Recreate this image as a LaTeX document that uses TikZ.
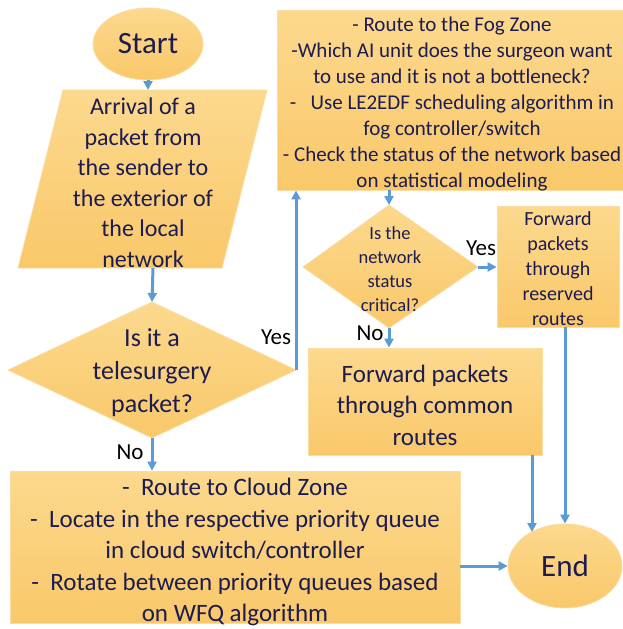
\documentclass[tikz,border=0pt]{standalone}
\usepackage{fontspec}
\setmainfont{Carlito}
\usetikzlibrary{arrows.meta,shapes.geometric}
\definecolor{fillA}{HTML}{FCD98E}
\definecolor{fillB}{HTML}{F9C86A}
\definecolor{edgeC}{HTML}{FBDDA2}
\definecolor{arrowC}{HTML}{5B9BD5}
\definecolor{txt}{HTML}{1C1C50}
\begin{document}
\begin{tikzpicture}[x=1pt,y=-1pt,
  shp/.style={top color=fillA,bottom color=fillB,draw=edgeC,line width=0.8pt},
  conn/.style={draw=arrowC,line width=3pt,-{Triangle[length=9pt,width=9pt]}},
  lbl/.style={font=\fontsize{23}{27}\selectfont,text=black,inner sep=0pt},
  txtnode/.style={text=txt,align=center,inner sep=0pt}
]
\useasboundingbox[fill=white] (0,0) rectangle (623,629);

% Start
\node[shp,ellipse,minimum width=110pt,minimum height=72pt,inner sep=0pt,text=txt,font=\fontsize{31}{37}\selectfont] (start) at (148,44) {Start};

% Parallelogram
\path[shp] (63,90) -- (267,90) -- (222,268) -- (18,268) -- cycle;
\coordinate (pTop) at (148,90);
\coordinate (pBot) at (153,268);
\node[txtnode,font=\fontsize{24}{30.5}\selectfont] (arr) at (143,183)
  {Arrival of a\\packet from\\the sender to\\the exterior of\\the local\\network};

% Diamond 1
\path[shp] (152,302) -- (296,370) -- (152,438) -- (8,370) -- cycle;
\coordinate (d1n) at (152,302);
\coordinate (d1e) at (296,370);
\coordinate (d1s) at (152,438);
\node[txtnode,font=\fontsize{26}{33}\selectfont] (d1) at (152,373) {Is it a\\telesurgery\\packet?};

% Fog box
\node[shp,rectangle,minimum width=346pt,minimum height=180pt,inner sep=0pt] (fog) at (450,100) {};
\node[txtnode,font=\fontsize{21}{26}\selectfont] (fogt) at (452,104)
  {- Route to the Fog Zone\\-Which AI unit does the surgeon want\\to use and it is not a bottleneck?\\-\ \ \ Use LE2EDF scheduling algorithm in\\fog controller/switch\\- Check the status of the network based\\on statistical modeling};

% Diamond 2
\path[shp] (389,205) -- (478,267) -- (389,328) -- (303,267) -- cycle;
\coordinate (d2n) at (389,205);
\coordinate (d2e) at (478,267);
\coordinate (d2s) at (389,328);
\node[txtnode,font=\fontsize{18.5}{24}\selectfont] (d2) at (390,269) {Is the\\network\\status\\critical?};

% Reserved box
\node[shp,rectangle,minimum width=122pt,minimum height=121pt,inner sep=0pt] (res) at (558,266.5) {};
\node[txtnode,font=\fontsize{20}{25}\selectfont] (rest) at (558,269) {Forward\\packets\\through\\reserved\\routes};

% Common box
\node[shp,rectangle,minimum width=234pt,minimum height=107pt,inner sep=0pt] (com) at (425,401.5) {};
\node[txtnode,font=\fontsize{25}{31.5}\selectfont] (comt) at (425,405) {Forward packets\\through common\\routes};

% Cloud box
\node[shp,rectangle,minimum width=450pt,minimum height=152pt,inner sep=0pt] (cloud) at (235,547) {};
\node[txtnode,font=\fontsize{25}{31.5}\selectfont] (cloudt) at (235,552)
  {-\ \ Route to Cloud Zone\\-\ \ Locate in the respective priority queue\\in cloud switch/controller\\-\ \ Rotate between priority queues based\\on WFQ algorithm};

% End
\node[shp,ellipse,minimum width=114pt,minimum height=84pt,inner sep=0pt,text=txt,font=\fontsize{31}{37}\selectfont] (end) at (565,566) {End};
\coordinate (endA) at (532,532);

% Connectors
\draw[conn] (start.south) -- (pTop);
\draw[conn] (pBot) -- (d1n);
\draw[conn] (d1e) -- (d1e |- fog.south);
\draw[conn] (d2n |- fog.south) -- (d2n);
\draw[conn] (d2e) -- (d2e -| res.west);
\draw[conn] (d2s) -- (d2s |- com.north);
\draw[conn] (d1s) -- (d1s |- cloud.north);
\draw[conn] (end.west -| cloud.east) -- (end.west);
\draw[conn] (com.south -| endA) -- (endA);
\draw[conn] (res.south -| end.north) -- (end.north);

% Labels
\node[lbl] (yes1) at (276,337) {Yes};
\node[lbl] (no1) at (130,452) {No};
\node[lbl] (yes2) at (481,248) {Yes};
\node[lbl] (no2) at (370,333) {No};
\end{tikzpicture}
\end{document}
